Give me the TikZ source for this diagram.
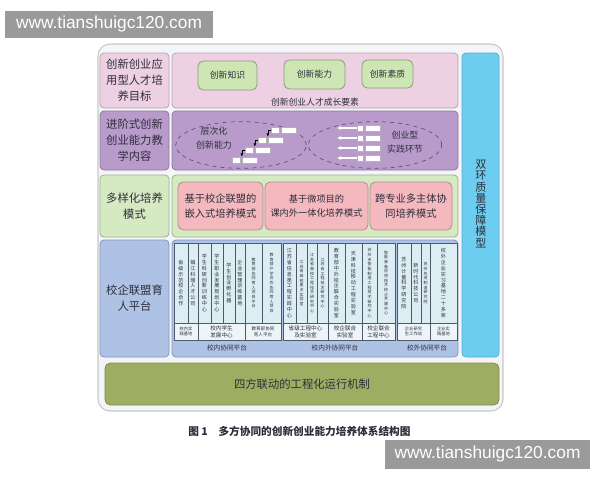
\documentclass[tikz,border=0pt]{standalone}
\usepackage{fontspec}
\setmainfont{Noto Sans CJK SC}
\newfontfamily\latfont{Liberation Sans}
\usetikzlibrary{shapes.geometric,arrows.meta}
\XeTeXlinebreaklocale "zh"
\XeTeXlinebreakskip=0pt plus 1pt
\definecolor{txt}{HTML}{2E2E3A}
\definecolor{pinkbg}{HTML}{EDD0E2}
\definecolor{pinkbd}{HTML}{B9A3B3}
\definecolor{greenk}{HTML}{CDE6B4}
\definecolor{greenkbd}{HTML}{8E9C7E}
\definecolor{purpbg}{HTML}{B89BCB}
\definecolor{purpbd}{HTML}{8C779E}
\definecolor{grnbg}{HTML}{D5E9C3}
\definecolor{grnbd}{HTML}{9DB38A}
\definecolor{rosebg}{HTML}{F4B9BF}
\definecolor{rosebd}{HTML}{B88A8C}
\definecolor{bluebg}{HTML}{AEC2E5}
\definecolor{bluebd}{HTML}{8195BE}
\definecolor{colbg}{HTML}{DDEDF4}
\definecolor{subbg}{HTML}{EDF5F9}
\definecolor{grpbd}{HTML}{505A66}
\definecolor{cyanbg}{HTML}{6DCDF0}
\definecolor{cyanbd}{HTML}{58AFD2}
\definecolor{olivebg}{HTML}{9DAE62}
\definecolor{olivebd}{HTML}{7E8D4C}
\definecolor{framebg}{HTML}{F3F5F8}
\definecolor{framebd}{HTML}{C8C8C8}
\definecolor{wmgray}{HTML}{9A9A9A}
\definecolor{dashc}{HTML}{5E506E}
\newcommand\bx[7][]{\node[#1, minimum width={((#5)-(#3))*0.75pt}, minimum height={((#6)-(#4))*0.75pt}] (#2) at ({((#3)+(#5))/2},{((#4)+(#6))/2}) {#7};}
\newcommand\col[5]{\node[colbox,#4, minimum width={((#3)-(#2))*0.75pt}, minimum height=60pt] (#1) at ({((#2)+(#3))/2},283) {#5};}
\begin{document}
\begin{tikzpicture}[x=0.75pt,y=-0.75pt,
  base/.style={rectangle, rounded corners=3pt, inner sep=1pt, align=center, text=txt, line width=0.6pt},
  rowlab/.style={base, font=\fontsize{8.5}{12}\selectfont},
  small/.style={font=\fontsize{6.6}{9}\selectfont, text=txt, align=center},
  greenbox/.style={base, rounded corners=4pt, fill=greenk, draw=greenkbd, font=\fontsize{6.6}{9}\selectfont},
  rosebox/.style={base, rounded corners=4pt, fill=rosebg, draw=rosebd},
  stair/.style={rectangle, fill=white, draw=gray!60, line width=0.3pt, inner sep=0pt},
  sarrow/.style={black, line width=0.4pt, -{Latex[length=2.5pt,width=2pt]}},
  warrow/.style={white, line width=0.8pt, -{Latex[length=3pt,width=3pt]}},
  colbox/.style={rectangle, fill=colbg, draw=grpbd, line width=0.35pt, inner sep=0pt, align=center, text=txt},
  vtA/.style={text width=4pt, font=\fontsize{3.8}{4.4}\selectfont},
  vtB/.style={text width=3.2pt, font=\fontsize{3}{3.5}\selectfont},
  subbox/.style={rectangle, fill=subbg, draw=grpbd, line width=0.35pt, inner sep=0pt, align=center, text=txt},
  grpbox/.style={rectangle, draw=grpbd, line width=0.6pt, inner sep=0pt},
  wm/.style={rectangle, fill=wmgray, text=white, inner sep=0pt, font=\latfont\fontsize{13}{14}\selectfont}
]
\useasboundingbox (0,0) rectangle (600,480);
\fill[white] (0,0) rectangle (600,480);

% outer frame
\bx[rectangle, rounded corners=9pt, fill=framebg, draw=framebd, line width=0.8pt]{frame}{98}{44}{503}{411}{}

% row 1
\bx[rowlab, fill=pinkbg, draw=pinkbd]{l1}{100}{53}{169}{108}{创新创业应\\用型人才培\\养目标}
\bx[base, fill=pinkbg, draw=pinkbd]{r1}{172}{53}{458}{108}{}
\bx[greenbox]{k1}{198}{61}{257}{90}{创新知识}
\bx[greenbox]{k2}{284}{60}{345}{89}{创新能力}
\bx[greenbox]{k3}{362}{60}{413}{88}{创新素质}
\node[small] (r1cap) at (315,102) {创新创业人才成长要素};

% row 2
\bx[rowlab, fill=purpbg, draw=purpbd]{l2}{100}{111}{169}{170}{进阶式创新\\创业能力教\\学内容}
\bx[base, fill=purpbg, draw=purpbd]{r2}{172}{111}{458}{170}{}
\node[ellipse, draw=dashc, dashed, line width=0.5pt, minimum width=98pt, minimum height=35pt, inner sep=0pt] (e1) at (241,145) {};
\node[ellipse, draw=dashc, dashed, line width=0.5pt, minimum width=100pt, minimum height=35pt, inner sep=0pt] (e2) at (375,145) {};
\node[small, font=\fontsize{6.7}{10.5}\selectfont] (t21) at (214,138) {层次化\\创新能力};
\node[small, font=\fontsize{6.7}{10.5}\selectfont] (t22) at (405,142) {创业型\\实践环节};
\foreach \i in {0,...,3}{
  \bx[stair]{sa\i}{232+13*\i}{157-10*\i}{240+13*\i}{163-10*\i}{}
  \bx[stair]{sb\i}{242+13*\i}{157-10*\i}{257+13*\i}{163-10*\i}{}
}
\foreach \i/\j in {0/1,1/2,2/3}{
  \draw[sarrow] (sa\j.west) -| (sb\i.north west);
}
\foreach \j in {0,...,3}{
  \bx[stair]{ra\j}{357}{125+10*\j}{363}{131+10*\j}{}
  \bx[stair]{rb\j}{365}{125+10*\j}{380}{131+10*\j}{}
  \coordinate (rt\j) at (337,128+10*\j);
  \draw[warrow] (ra\j.west) -- (rt\j);
}

% row 3
\bx[rowlab, fill=grnbg, draw=grnbd]{l3}{100}{175}{169}{237}{多样化培养\\模式}
\bx[base, fill=grnbg, draw=grnbd]{r3}{172}{175}{458}{237}{}
\bx[rosebox, font=\fontsize{7.7}{11}\selectfont]{p1}{178}{182}{263}{230}{基于校企联盟的\\嵌入式培养模式}
\bx[rosebox, font=\fontsize{6.9}{10.5}\selectfont]{p2}{265}{182}{368}{230}{基于微项目的\\课内外一体化培养模式}
\bx[rosebox, font=\fontsize{7.7}{11}\selectfont]{p3}{370}{182}{452}{230}{跨专业多主体协\\同培养模式}

% row 4
\bx[rowlab, fill=bluebg, draw=bluebd]{l4}{100}{240}{169}{357}{校企联盟育\\人平台}
\bx[base, fill=bluebg, draw=bluebd]{r4}{172}{240}{458}{357}{}
% group 1
\col{c1}{174}{188}{vtA}{省级示范校企合作}
\col{c2}{188}{198}{vtA}{镇江科瑞人才公司}
\col{c3}{198}{211}{vtA}{学生科研创新训练中心}
\col{c4}{211}{223}{vtA}{学生职业发展规划中心}
\col{c5}{223}{235}{vtA}{学生创业孵化器}
\col{c6}{235}{245}{vtA}{企业管理训练基地}
\col{c7}{245}{262}{vtB}{教育部协同育人项目平台}
\col{c8}{262}{281}{vtB}{教育部产学合作协同育人项目}
% group 2
\col{c9}{283}{296}{vtA}{江苏省信息类工程实践中心}
\col{c10}{296}{307}{vtB}{江苏省高校重点实验室}
\col{c11}{307}{317}{vtB}{江苏省高校工程技术研究中心}
\col{c12}{317}{328}{vtB}{江苏省工程技术研究中心}
\col{c13}{328}{345}{vtA}{教育部中外校企联合实验室}
\col{c14}{345}{362}{vtA}{天津科技移动工程实验室}
\col{c15}{362}{377}{vtB}{苏州市智能制造工程技术研究中心}
\col{c16}{377}{395}{vtB}{智能装备应用技术校企共建中心}
% group 3
\col{c17}{397}{411}{vtA}{苏州计量科学研究院}
\col{c18}{411}{421}{vtA}{新时代科技公司}
\col{c19}{421}{430}{vtB}{苏州先进制造研究院}
\col{c20}{430}{457}{vtA}{校外企业实习基地二十多家}
% sub labels
\bx[subbox, font=\fontsize{3.2}{3.9}\selectfont]{s1}{174}{323}{198}{340}{校内实\\践基地}
\bx[subbox, font=\fontsize{4.2}{5.2}\selectfont]{s2}{198}{323}{245}{340}{校内学生\\发展中心}
\bx[subbox, font=\fontsize{3.4}{4.2}\selectfont]{s3}{245}{323}{281}{340}{教育部协同\\育人平台}
\bx[subbox, font=\fontsize{4.2}{5.2}\selectfont]{s4}{283}{323}{328}{340}{省级工程中心\\及实验室}
\bx[subbox, font=\fontsize{4.2}{5.2}\selectfont]{s5}{328}{323}{362}{340}{校企联合\\实验室}
\bx[subbox, font=\fontsize{4.2}{5.2}\selectfont]{s6}{362}{323}{395}{340}{校企联合\\工程中心}
\bx[subbox, font=\fontsize{3.2}{3.9}\selectfont]{s7}{397}{323}{430}{340}{企业研究\\生工作站}
\bx[subbox, font=\fontsize{3.2}{3.9}\selectfont]{s8}{430}{323}{457}{340}{企业实\\践基地}
% group frames
\bx[grpbox]{g1}{174}{243}{281}{340}{}
\bx[grpbox]{g2}{283}{243}{395}{340}{}
\bx[grpbox]{g3}{397}{243}{457}{340}{}
\node[text=txt, font=\fontsize{5}{6}\selectfont] (gl1) at (227,348) {校内协同平台};
\node[text=txt, font=\fontsize{5}{6}\selectfont] (gl2) at (335,348) {校内外协同平台};
\node[text=txt, font=\fontsize{5}{6}\selectfont] (gl3) at (427,348) {校外协同平台};

% right column
\bx[base, fill=cyanbg, draw=cyanbd]{q}{462}{53}{499}{357}{}
\node[text=txt, align=center, inner sep=0pt, text width=8.6pt, font=\fontsize{8.3}{8.4}\selectfont] (qt) at (481,204) {双环质量保障模型};

% bottom row
\bx[base, rounded corners=4pt, fill=olivebg, draw=olivebd, font=\fontsize{8.5}{10}\selectfont]{bot}{105}{363}{499}{405}{四方联动的工程化运行机制}

% caption
\node[anchor=west, text=txt, inner sep=0pt, font=\bfseries\fontsize{8}{9}\selectfont] (cap) at (188,431) {图 1\quad 多方协同的创新创业能力培养体系结构图};

% watermarks
\bx[wm]{wm1}{5}{11}{213}{38}{www.tianshuigc120.com}
\bx[wm]{wm2}{385}{440}{590}{469}{www.tianshuigc120.com}
\end{tikzpicture}
\end{document}
